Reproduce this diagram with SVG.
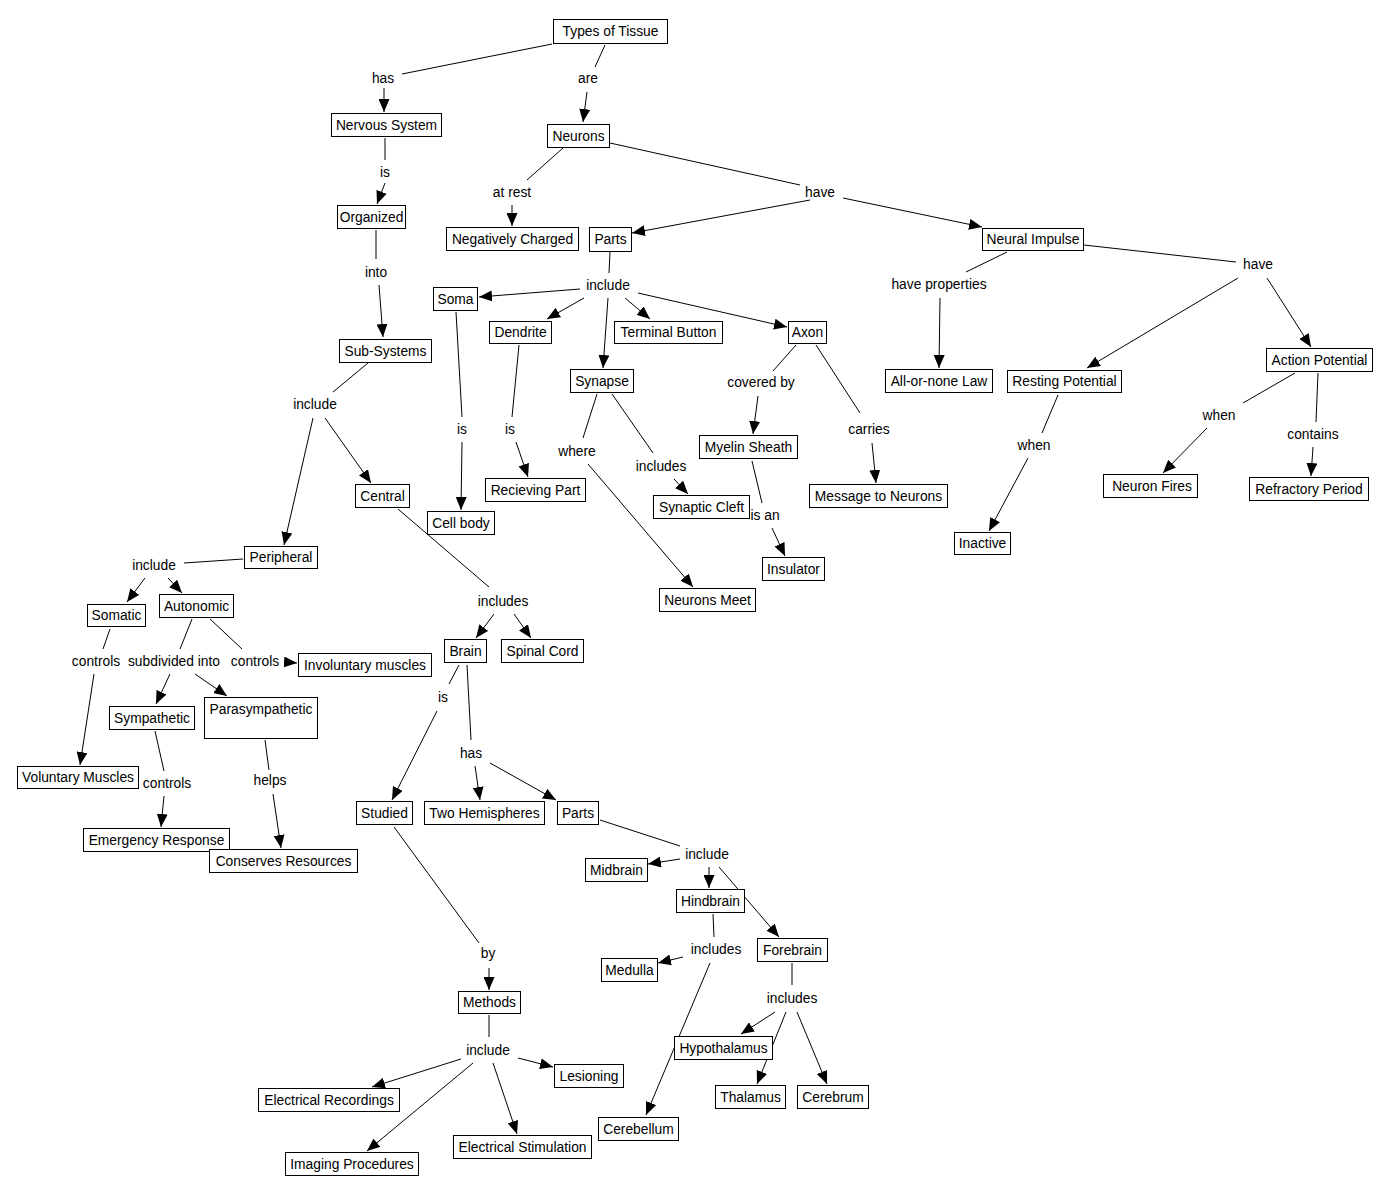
<svg xmlns="http://www.w3.org/2000/svg" width="1388" height="1195" viewBox="0 0 1388 1195">
<style>
.bg{fill:#fff}
.n rect{fill:#fff;stroke:#000;stroke-width:1}
text{font-family:"Liberation Sans",Arial,sans-serif;font-size:13.8px;fill:#000;text-anchor:middle}
#connectors line{stroke:#000;stroke-width:1}
#connectors line.a{marker-end:url(#ah)}
</style>
<defs>
<marker id="ah" markerUnits="userSpaceOnUse" markerWidth="13" markerHeight="11" refX="13" refY="5.5" orient="auto"><path d="M0,0 L13,5.5 L0,11 z" fill="#000"/></marker>
</defs>
<rect class="bg" x="0" y="0" width="1388" height="1195"/>
<g id="connectors">
<line x1="552" y1="44" x2="402" y2="74"/>
<line x1="605" y1="45" x2="595" y2="67"/>
<line x1="563" y1="148" x2="527" y2="180"/>
<line x1="385" y1="138" x2="385" y2="160"/>
<line x1="610" y1="143" x2="800" y2="185"/>
<line x1="376" y1="230" x2="376" y2="259"/>
<line x1="610" y1="252" x2="609" y2="273"/>
<line x1="1084" y1="245" x2="1236" y2="262"/>
<line x1="1007" y1="252" x2="966" y2="272"/>
<line x1="368" y1="363" x2="333" y2="392"/>
<line x1="796" y1="345" x2="773" y2="371"/>
<line x1="816" y1="345" x2="860" y2="413"/>
<line x1="456" y1="312" x2="462" y2="417"/>
<line x1="519" y1="345" x2="512" y2="417"/>
<line x1="597" y1="394" x2="583" y2="438"/>
<line x1="612" y1="394" x2="653" y2="453"/>
<line x1="752" y1="461" x2="762" y2="503"/>
<line x1="1058" y1="395" x2="1042" y2="433"/>
<line x1="1295" y1="373" x2="1243" y2="403"/>
<line x1="1318" y1="373" x2="1316" y2="422"/>
<line x1="243" y1="559" x2="184" y2="563"/>
<line x1="398" y1="509" x2="489" y2="587"/>
<line x1="110" y1="629" x2="103" y2="649"/>
<line x1="192" y1="619" x2="180" y2="649"/>
<line x1="210" y1="619" x2="242" y2="649"/>
<line x1="459" y1="665" x2="449" y2="684"/>
<line x1="467" y1="665" x2="471" y2="740"/>
<line x1="155" y1="731" x2="164" y2="771"/>
<line x1="265" y1="740" x2="269" y2="770"/>
<line x1="394" y1="827" x2="479" y2="943"/>
<line x1="600" y1="820" x2="680" y2="846"/>
<line x1="713" y1="914" x2="714" y2="937"/>
<line x1="792" y1="963" x2="792" y2="985"/>
<line x1="489" y1="1015" x2="489" y2="1037"/>
<line class="a" x1="384" y1="88" x2="384" y2="112"/>
<line class="a" x1="587" y1="92" x2="583" y2="122"/>
<line class="a" x1="385" y1="183" x2="377" y2="204"/>
<line class="a" x1="512" y1="205" x2="512" y2="226"/>
<line class="a" x1="810" y1="200" x2="632" y2="233"/>
<line class="a" x1="843" y1="198" x2="982" y2="227"/>
<line class="a" x1="379" y1="285" x2="383" y2="337"/>
<line class="a" x1="580" y1="289" x2="479" y2="297"/>
<line class="a" x1="584" y1="298" x2="547" y2="319"/>
<line class="a" x1="608" y1="298" x2="603" y2="368"/>
<line class="a" x1="625" y1="298" x2="650" y2="319"/>
<line class="a" x1="638" y1="293" x2="787" y2="327"/>
<line class="a" x1="940" y1="298" x2="939" y2="368"/>
<line class="a" x1="1238" y1="278" x2="1087" y2="368"/>
<line class="a" x1="1267" y1="278" x2="1311" y2="347"/>
<line class="a" x1="758" y1="396" x2="753" y2="434"/>
<line class="a" x1="462" y1="442" x2="461" y2="510"/>
<line class="a" x1="516" y1="442" x2="528" y2="477"/>
<line class="a" x1="674" y1="479" x2="688" y2="494"/>
<line class="a" x1="588" y1="464" x2="693" y2="587"/>
<line class="a" x1="872" y1="443" x2="876" y2="483"/>
<line class="a" x1="772" y1="528" x2="785" y2="556"/>
<line class="a" x1="1028" y1="458" x2="989" y2="531"/>
<line class="a" x1="1207" y1="428" x2="1163" y2="473"/>
<line class="a" x1="1313" y1="447" x2="1311" y2="476"/>
<line class="a" x1="313" y1="418" x2="284" y2="545"/>
<line class="a" x1="325" y1="418" x2="371" y2="483"/>
<line class="a" x1="145" y1="578" x2="127" y2="602"/>
<line class="a" x1="168" y1="578" x2="182" y2="593"/>
<line class="a" x1="284" y1="662" x2="297" y2="663"/>
<line class="a" x1="94" y1="674" x2="80" y2="765"/>
<line class="a" x1="170" y1="674" x2="156" y2="704"/>
<line class="a" x1="195" y1="674" x2="227" y2="696"/>
<line class="a" x1="164" y1="796" x2="161" y2="827"/>
<line class="a" x1="273" y1="794" x2="281" y2="848"/>
<line class="a" x1="494" y1="614" x2="476" y2="638"/>
<line class="a" x1="514" y1="614" x2="531" y2="638"/>
<line class="a" x1="437" y1="711" x2="392" y2="800"/>
<line class="a" x1="475" y1="766" x2="480" y2="800"/>
<line class="a" x1="490" y1="763" x2="556" y2="800"/>
<line class="a" x1="680" y1="859" x2="648" y2="864"/>
<line class="a" x1="709" y1="867" x2="709" y2="888"/>
<line class="a" x1="719" y1="867" x2="779" y2="937"/>
<line class="a" x1="683" y1="957" x2="658" y2="963"/>
<line class="a" x1="710" y1="963" x2="646" y2="1115"/>
<line class="a" x1="775" y1="1012" x2="741" y2="1034"/>
<line class="a" x1="786" y1="1012" x2="757" y2="1084"/>
<line class="a" x1="797" y1="1012" x2="827" y2="1084"/>
<line class="a" x1="489" y1="968" x2="489" y2="990"/>
<line class="a" x1="518" y1="1058" x2="553" y2="1067"/>
<line class="a" x1="461" y1="1059" x2="372" y2="1087"/>
<line class="a" x1="473" y1="1063" x2="367" y2="1151"/>
<line class="a" x1="493" y1="1063" x2="517" y2="1134"/>
</g>
<g id="labels">
<text x="383" y="83">has</text>
<text x="588" y="83">are</text>
<text x="385" y="177">is</text>
<text x="512" y="197">at rest</text>
<text x="820" y="197">have</text>
<text x="376" y="277">into</text>
<text x="608" y="290">include</text>
<text x="1258" y="269">have</text>
<text x="939" y="289">have properties</text>
<text x="315" y="409">include</text>
<text x="761" y="387">covered by</text>
<text x="1034" y="450">when</text>
<text x="1219" y="420">when</text>
<text x="1313" y="439">contains</text>
<text x="462" y="434">is</text>
<text x="510" y="434">is</text>
<text x="577" y="456">where</text>
<text x="661" y="471">includes</text>
<text x="869" y="434">carries</text>
<text x="765" y="520">is an</text>
<text x="154" y="570">include</text>
<text x="503" y="606">includes</text>
<text x="96" y="666">controls</text>
<text x="174" y="666">subdivided into</text>
<text x="255" y="666">controls</text>
<text x="443" y="702">is</text>
<text x="471" y="758">has</text>
<text x="167" y="788">controls</text>
<text x="270" y="785">helps</text>
<text x="707" y="859">include</text>
<text x="716" y="954">includes</text>
<text x="792" y="1003">includes</text>
<text x="488" y="958">by</text>
<text x="488" y="1055">include</text>
</g>
<g id="n1" class="n"><rect x="553.5" y="19.5" width="114" height="24"/><text x="610.5" y="36">Types of Tissue</text></g>
<g id="n2" class="n"><rect x="331.5" y="113.5" width="110" height="23"/><text x="386.5" y="130">Nervous System</text></g>
<g id="n3" class="n"><rect x="547.5" y="124.5" width="62" height="23"/><text x="578.5" y="141">Neurons</text></g>
<g id="n4" class="n"><rect x="337.5" y="205.5" width="68" height="23"/><text x="371.5" y="222">Organized</text></g>
<g id="n5" class="n"><rect x="446.5" y="227.5" width="132" height="23"/><text x="512.5" y="244">Negatively Charged</text></g>
<g id="n6" class="n"><rect x="589.5" y="227.5" width="42" height="24"/><text x="610.5" y="244">Parts</text></g>
<g id="n7" class="n"><rect x="982.5" y="228.5" width="101" height="22"/><text x="1033" y="244">Neural Impulse</text></g>
<g id="n8" class="n"><rect x="433.5" y="287.5" width="44" height="23"/><text x="455.5" y="304">Soma</text></g>
<g id="n9" class="n"><rect x="489.5" y="321.5" width="62" height="22"/><text x="520.5" y="337">Dendrite</text></g>
<g id="n10" class="n"><rect x="614.5" y="321.5" width="108" height="22"/><text x="668.5" y="337">Terminal Button</text></g>
<g id="n11" class="n"><rect x="788.5" y="321.5" width="38" height="22"/><text x="807.5" y="337">Axon</text></g>
<g id="n12" class="n"><rect x="339.5" y="339.5" width="92" height="23"/><text x="385.5" y="356">Sub-Systems</text></g>
<g id="n13" class="n"><rect x="570.5" y="369.5" width="63" height="23"/><text x="602" y="386">Synapse</text></g>
<g id="n14" class="n"><rect x="885.5" y="369.5" width="107" height="23"/><text x="939" y="386">All-or-none Law</text></g>
<g id="n15" class="n"><rect x="1007.5" y="370.5" width="114" height="22"/><text x="1064.5" y="386">Resting Potential</text></g>
<g id="n16" class="n"><rect x="1266.5" y="348.5" width="106" height="23"/><text x="1319.5" y="365">Action Potential</text></g>
<g id="n17" class="n"><rect x="699.5" y="435.5" width="98" height="23"/><text x="748.5" y="452">Myelin Sheath</text></g>
<g id="n18" class="n"><rect x="485.5" y="478.5" width="100" height="23"/><text x="535.5" y="495">Recieving Part</text></g>
<g id="n19" class="n"><rect x="1103.5" y="474.5" width="94" height="23"/><text x="1152" y="491">Neuron Fires</text></g>
<g id="n20" class="n"><rect x="1249.5" y="477.5" width="119" height="23"/><text x="1309" y="494">Refractory Period</text></g>
<g id="n21" class="n"><rect x="809.5" y="484.5" width="138" height="23"/><text x="878.5" y="501">Message to Neurons</text></g>
<g id="n22" class="n"><rect x="653.5" y="495.5" width="96" height="23"/><text x="701.5" y="512">Synaptic Cleft</text></g>
<g id="n23" class="n"><rect x="355.5" y="484.5" width="54" height="23"/><text x="382.5" y="501">Central</text></g>
<g id="n24" class="n"><rect x="427.5" y="511.5" width="67" height="23"/><text x="461" y="528">Cell body</text></g>
<g id="n25" class="n"><rect x="954.5" y="532.5" width="56" height="22"/><text x="982.5" y="548">Inactive</text></g>
<g id="n26" class="n"><rect x="762.5" y="557.5" width="62" height="23"/><text x="793.5" y="574">Insulator</text></g>
<g id="n27" class="n"><rect x="244.5" y="546.5" width="73" height="22"/><text x="281" y="562">Peripheral</text></g>
<g id="n28" class="n"><rect x="659.5" y="588.5" width="96" height="23"/><text x="707.5" y="605">Neurons Meet</text></g>
<g id="n29" class="n"><rect x="159.5" y="594.5" width="74" height="23"/><text x="196.5" y="611">Autonomic</text></g>
<g id="n30" class="n"><rect x="87.5" y="604.5" width="58" height="22"/><text x="116.5" y="620">Somatic</text></g>
<g id="n31" class="n"><rect x="444.5" y="639.5" width="42" height="23"/><text x="465.5" y="656">Brain</text></g>
<g id="n32" class="n"><rect x="501.5" y="639.5" width="82" height="23"/><text x="542.5" y="656">Spinal Cord</text></g>
<g id="n33" class="n"><rect x="298.5" y="653.5" width="133" height="23"/><text x="365" y="670">Involuntary muscles</text></g>
<g id="n34" class="n"><rect x="204.5" y="697.5" width="113" height="41"/><text x="261" y="714">Parasympathetic</text></g>
<g id="n35" class="n"><rect x="109.5" y="706.5" width="85" height="23"/><text x="152" y="723">Sympathetic</text></g>
<g id="n36" class="n"><rect x="17.5" y="766.5" width="121" height="22"/><text x="78" y="782">Voluntary Muscles</text></g>
<g id="n37" class="n"><rect x="356.5" y="801.5" width="56" height="23"/><text x="384.5" y="818">Studied</text></g>
<g id="n38" class="n"><rect x="424.5" y="801.5" width="120" height="23"/><text x="484.5" y="818">Two Hemispheres</text></g>
<g id="n39" class="n"><rect x="557.5" y="801.5" width="41" height="23"/><text x="578" y="818">Parts</text></g>
<g id="n40" class="n"><rect x="83.5" y="828.5" width="146" height="23"/><text x="156.5" y="845">Emergency Response</text></g>
<g id="n41" class="n"><rect x="209.5" y="849.5" width="148" height="23"/><text x="283.5" y="866">Conserves Resources</text></g>
<g id="n42" class="n"><rect x="585.5" y="858.5" width="62" height="23"/><text x="616.5" y="875">Midbrain</text></g>
<g id="n43" class="n"><rect x="676.5" y="889.5" width="68" height="23"/><text x="710.5" y="906">Hindbrain</text></g>
<g id="n44" class="n"><rect x="757.5" y="938.5" width="70" height="23"/><text x="792.5" y="955">Forebrain</text></g>
<g id="n45" class="n"><rect x="601.5" y="958.5" width="56" height="23"/><text x="629.5" y="975">Medulla</text></g>
<g id="n46" class="n"><rect x="458.5" y="991.5" width="62" height="22"/><text x="489.5" y="1007">Methods</text></g>
<g id="n47" class="n"><rect x="674.5" y="1036.5" width="98" height="23"/><text x="723.5" y="1053">Hypothalamus</text></g>
<g id="n48" class="n"><rect x="554.5" y="1064.5" width="69" height="23"/><text x="589" y="1081">Lesioning</text></g>
<g id="n49" class="n"><rect x="258.5" y="1088.5" width="141" height="23"/><text x="329" y="1105">Electrical Recordings</text></g>
<g id="n50" class="n"><rect x="715.5" y="1085.5" width="70" height="23"/><text x="750.5" y="1102">Thalamus</text></g>
<g id="n51" class="n"><rect x="797.5" y="1085.5" width="71" height="23"/><text x="833" y="1102">Cerebrum</text></g>
<g id="n52" class="n"><rect x="598.5" y="1117.5" width="80" height="23"/><text x="638.5" y="1134">Cerebellum</text></g>
<g id="n53" class="n"><rect x="453.5" y="1135.5" width="138" height="23"/><text x="522.5" y="1152">Electrical Stimulation</text></g>
<g id="n54" class="n"><rect x="285.5" y="1152.5" width="133" height="23"/><text x="352" y="1169">Imaging Procedures</text></g>
</svg>
